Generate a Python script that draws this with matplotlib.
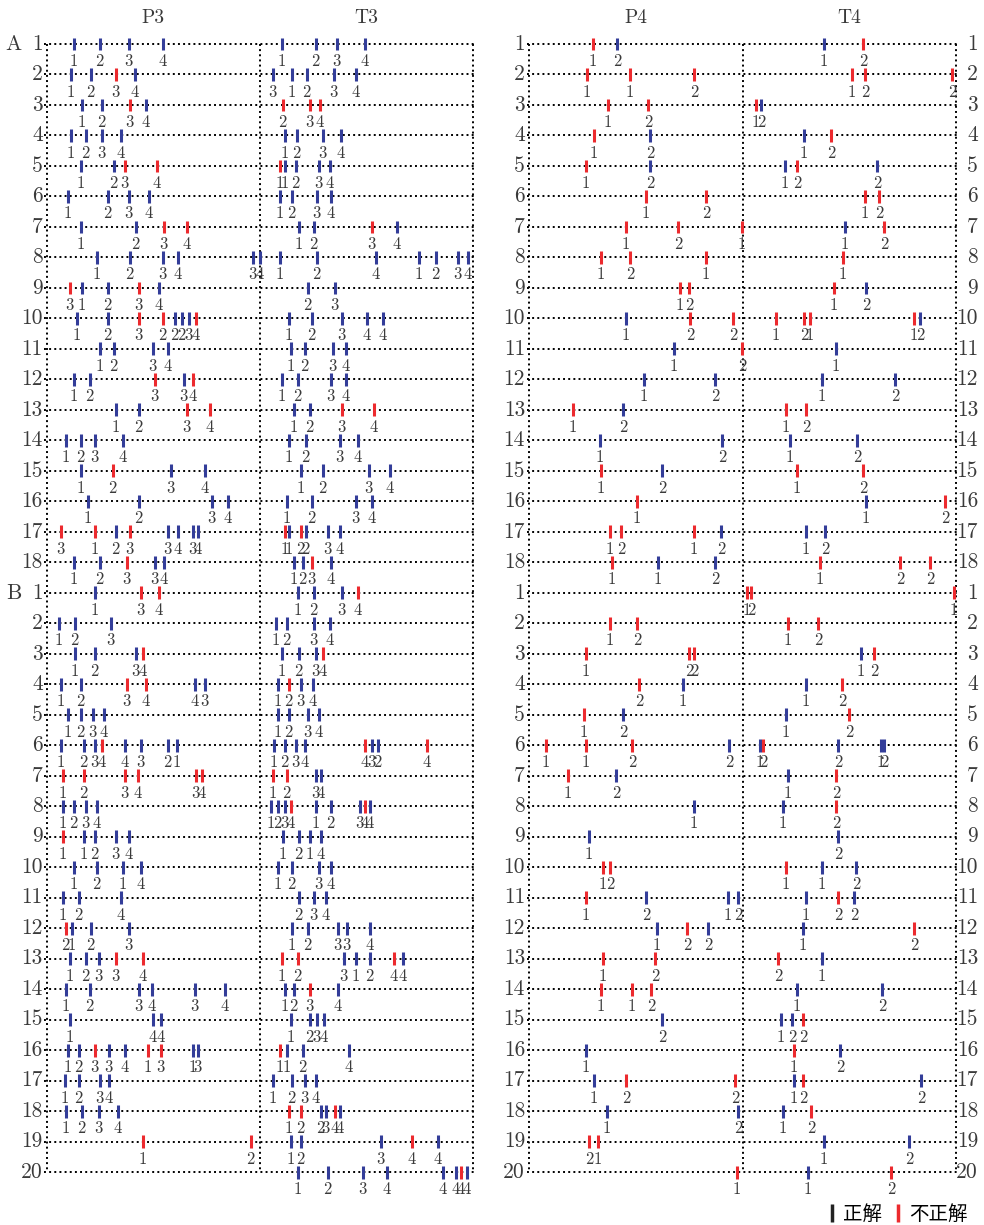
import matplotlib.pyplot as plt
from matplotlib.lines import Line2D

# Row order: A1..A18 then B1..B20.
row_numbers = list(range(1, 19)) + list(range(1, 21))
group_rows = {'A': 0, 'B': 18}

# Left panel (P3 | T3): positions, digit labels, b = correct / r = incorrect.
left_pos = [
    [27, 53, 82, 116, 235, 269, 290, 318],
    [24, 44, 69, 88, 226, 245, 260, 287, 309],
    [35, 55, 83, 99, 236, 263, 273],
    [24, 39, 55, 74, 238, 250, 276, 294],
    [34, 67, 78, 110, 233, 238, 249, 272, 283],
    [21, 61, 82, 102, 233, 245, 270, 284],
    [34, 89, 117, 140, 252, 267, 325, 350],
    [50, 83, 116, 131, 206, 213, 233, 270, 329, 372, 389, 411, 421],
    [23, 35, 61, 92, 112, 261, 288],
    [30, 61, 92, 116, 128, 135, 142, 149, 242, 265, 295, 320, 336],
    [53, 67, 106, 121, 244, 258, 286, 299],
    [27, 43, 108, 137, 146, 235, 251, 284, 299],
    [69, 92, 140, 163, 247, 263, 295, 327],
    [19, 34, 48, 76, 242, 259, 293, 311],
    [34, 66, 124, 158, 254, 276, 322, 343],
    [41, 92, 165, 181, 240, 265, 309, 325],
    [14, 48, 69, 83, 121, 131, 146, 151, 238, 242, 254, 259, 281, 293],
    [27, 53, 80, 108, 117, 247, 256, 265, 284],
    [48, 94, 112, 251, 267, 295, 311],
    [12, 28, 64, 229, 240, 267, 283],
    [28, 48, 89, 96, 235, 252, 269, 276],
    [14, 34, 80, 99, 148, 158, 231, 242, 254, 266],
    [21, 34, 46, 57, 231, 242, 261, 272],
    [14, 37, 48, 55, 78, 94, 121, 130, 227, 238, 249, 258, 318, 325, 331, 380],
    [16, 37, 78, 91, 149, 155, 226, 240, 269, 274],
    [16, 27, 39, 50, 224, 231, 238, 244, 269, 284, 313, 318, 323],
    [16, 37, 48, 69, 82, 236, 252, 263, 274],
    [27, 50, 76, 94, 231, 245, 272, 284],
    [16, 32, 74, 252, 267, 279],
    [19, 25, 44, 82, 245, 261, 291, 300, 323],
    [23, 39, 52, 69, 96, 235, 251, 297, 309, 323, 347, 356],
    [19, 43, 92, 105, 148, 178, 238, 247, 263, 291],
    [23, 106, 114, 244, 263, 270, 277],
    [21, 32, 48, 62, 78, 101, 114, 146, 151, 233, 240, 256, 302],
    [18, 32, 53, 62, 226, 245, 258, 269],
    [19, 35, 52, 71, 242, 254, 274, 279, 288, 293],
    [96, 204, 244, 254, 334, 365, 391],
    [251, 281, 316, 340, 396, 409, 414, 420],
]
left_lab = [
    "12341234", "123431234", "1234234", "12341234", "123411234",
    "12341234", "12341234", "1234341241234", "3123423", "1232223412344",
    "12341234", "123341234", "12341234", "12341234", "12341234",
    "12341234", "31233434112234", "123341234",
    "1341234", "1231234", "12341234", "1234431234", "12341234",
    "1234432112344324", "1234341234", "1234123412344", "112341214",
    "12141234", "124234", "212312334", "123341231244", "1234341234",
    "1441234", "1233413131124", "12341234", "1234122344", "1212344",
    "12344444",
]
left_ok = [
    "bbbbbbbb", "bbrbbbbbb", "bbrbrrr", "bbbbbbbb", "bbrrrbbbb",
    "bbbbbbbb", "bbrrbbrb", "bbbbbbbbbbbbb", "rbbrbbb", "bbrrbbbrbbbbb",
    "bbbbbbbb", "bbrbrbbbb", "bbrrbbrr", "bbbbbbbb", "brbbbbbb",
    "bbbbbbbb", "rrbrbbbbrbrbbb", "bbrbbbbrb",
    "brrbbbr", "bbbbbbb", "bbbrbbbr", "bbrrbbbrbb", "bbbbbbbb",
    "bbbrbbbbbbbbrbbr", "rrrrrrrrbb", "bbbbbbbrbbbrb", "rbbbbbbbb",
    "bbbbbbbb", "bbbbbb", "rbbbbbbbb", "bbbrrrrbbbrb", "bbbbbbbbrb",
    "bbbbbbb", "bbrbbrrbbrbbb", "bbbbbbbb", "bbbbrrbbrb", "rrbbbrb",
    "bbbbbbrb",
]

# Right panel (P4 | T4).
right_pos = [
    [64, 88, 295, 334], [58, 101, 165, 323, 336, 423], [79, 119, 227, 232],
    [65, 121, 275, 302], [57, 121, 256, 268, 348], [117, 177, 336, 350],
    [97, 149, 213, 316, 355], [72, 101, 177, 314], [151, 160, 305, 337],
    [97, 161, 204, 247, 275, 281, 385, 391], [145, 213, 307],
    [115, 186, 293, 366], [44, 94, 257, 277], [71, 193, 261, 328],
    [72, 133, 268, 334], [108, 337, 416], [81, 92, 165, 192, 277, 296],
    [83, 129, 186, 291, 371, 401],
    [218, 222, 425], [81, 108, 259, 289], [57, 160, 165, 332, 345],
    [110, 154, 277, 313], [55, 94, 257, 320],
    [17, 57, 103, 200, 231, 234, 309, 352, 355], [39, 87, 259, 307],
    [165, 254, 307], [60, 309], [74, 81, 257, 293, 327],
    [57, 117, 199, 209, 277, 309, 325], [128, 158, 179, 274, 385],
    [74, 126, 249, 293], [72, 103, 122, 268, 353], [133, 252, 263, 274],
    [57, 265, 311], [65, 97, 206, 265, 274, 392], [78, 209, 254, 282],
    [60, 69, 295, 380], [208, 279, 362],
]
right_lab = [
    "1212", "112122", "1212", "1212", "12122", "1212", "12112", "1211",
    "1212", "12212112", "121", "1212", "1212", "1212", "1212", "112",
    "121212", "112122",
    "121", "1212", "12212", "2112", "1212", "112212212", "1212", "112",
    "12", "12112", "1212122", "12212", "1221", "11212", "2122", "112",
    "122122", "1212", "2112", "112",
]
right_ok = [
    "rbbr", "rrrrrr", "rrrb", "rbbr", "rbbrb", "rrrr", "rrrbr", "rrrr",
    "rrrb", "brrrrrrb", "brb", "bbbb", "rbrr", "bbbb", "rbrr", "rbr",
    "rrrbbb", "rbbrrr",
    "rrr", "rrrr", "rrrbr", "rbbr", "rbbr", "rrrbbrbbb", "rbbr", "bbr",
    "bb", "rrrbb", "rbbbbrb", "brbbr", "rrrb", "rrrbb", "bbbr", "brb",
    "brrbrb", "bbbr", "rrbb", "rbr",
]

left_titles = ['P3', 'T3']
right_titles = ['P4', 'T4']
legend_labels = ['正解', '不正解']

blue = '#333d99'
red = '#ec2a2e'
gray = '#3a3a3a'
serif = 'cmr10'

W, H = 984, 1225
nrows = len(row_numbers)
row0, step = 44.0, 30.49
top_px = row0 - step
bot_px = row0 + step * nrows

fig = plt.figure(figsize=(W / 100, H / 100), dpi=100)


def make_axes(x0, x1):
    ax = fig.add_axes([x0 / W, 1 - bot_px / H, (x1 - x0) / W, (bot_px - top_px) / H])
    ax.set_xlim(0, x1 - x0)
    ax.set_ylim(nrows, -1)
    ax.axis('off')
    return ax


def draw_panel(ax, pos, lab, ok, width, divider, titles, right_numbers):
    dots = dict(ls=':', color='k', lw=1.4, zorder=1, clip_on=False)
    for i in range(nrows):
        ax.plot([-2.5, width + 1], [i, i], **dots)
    for xv in (0, divider, width):
        ax.plot([xv, xv], [0, nrows - 1], **dots)

    for i, (xs, ls, cs) in enumerate(zip(pos, lab, ok)):
        colors = [blue if c == 'b' else red for c in cs]
        ax.vlines(xs, i - 0.21, i + 0.21, colors=colors, lw=2.2, zorder=3, clip_on=False)
        for x, t in zip(xs, ls):
            ax.text(x, i + 0.57, t, ha='center', va='center', fontsize=12,
                    family=serif, color=gray)

    for i, n in enumerate(row_numbers):
        ax.text(-4, i, str(n), ha='right', va='center', fontsize=15.5,
                family=serif, color=gray)
        if right_numbers:
            ax.text(width + 22, i, str(n), ha='right', va='center', fontsize=15.5,
                    family=serif, color=gray)

    for cx, t in zip((divider / 2, (divider + width) / 2), titles):
        ax.text(cx, -0.86, t, ha='center', va='center', fontsize=14,
                family=serif, color=gray)


ax_l = make_axes(46.7, 473.3)
draw_panel(ax_l, left_pos, left_lab, left_ok, 426.6, 213.3, left_titles, False)
for g, r in group_rows.items():
    ax_l.text(-33, r, g, ha='center', va='center', fontsize=15.5,
              family=serif, color=gray)

ax_r = make_axes(529, 956)
draw_panel(ax_r, right_pos, right_lab, right_ok, 427, 214.3, right_titles, True)

handles = [Line2D([], [], color=c, marker='|', ls='none', markersize=13, mew=2.5)
           for c in ('#222222', red)]
fig.legend(handles, legend_labels, loc='center right', bbox_to_anchor=(968 / W, 1 - 1214 / H),
           ncol=2, frameon=False, handlelength=0.6, handletextpad=0.3,
           columnspacing=0.5, borderpad=0, borderaxespad=0,
           prop={'family': 'Noto Sans CJK JP', 'size': 14})

fig.savefig('out.png', dpi=100)
